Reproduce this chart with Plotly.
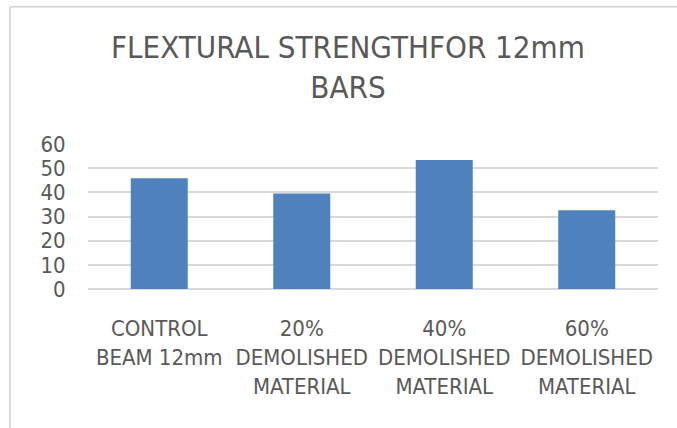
import plotly.graph_objects as go

categories = ["CONTROL<br>BEAM 12mm", "20%<br>DEMOLISHED<br>MATERIAL",
              "40%<br>DEMOLISHED<br>MATERIAL", "60%<br>DEMOLISHED<br>MATERIAL"]
values = [45.8, 39.5, 53.4, 32.6]
y_ticks = [0, 10, 20, 30, 40, 50, 60]
title_text = "FLEXTURAL STRENGTHFOR 12mm<br>BARS"

FONT = "DejaVu Sans Condensed, Liberation Sans Narrow, sans-serif"
GRAY = "#595959"

fig = go.Figure(go.Bar(x=categories, y=values, marker=dict(color="#4F81BD", line=dict(width=0))))

fig.update_layout(
    width=677, height=428,
    paper_bgcolor="white", plot_bgcolor="white",
    margin=dict(l=88, r=19, t=144, b=139),
    bargap=0.6,
    showlegend=False,
    font=dict(family=FONT, color=GRAY, size=22),
    title=dict(text=title_text, x=0.514, xanchor="center", y=1 - 58 / 428, yanchor="top",
               font=dict(family=FONT, size=31, color=GRAY)),
    xaxis=dict(showgrid=False, showline=False, zeroline=False, ticks="outside", ticklen=20,
               tickcolor="rgba(0,0,0,0)", tickfont=dict(size=22, color=GRAY, family=FONT)),
    yaxis=dict(range=[0, 60], tickvals=y_ticks, showgrid=True, gridcolor="#D9D9D9", gridwidth=1.5,
               zeroline=True, zerolinecolor="#D9D9D9", zerolinewidth=1.5, showline=False,
               ticks="outside", ticklen=17, tickcolor="rgba(0,0,0,0)",
               tickfont=dict(size=22, color=GRAY, family=FONT)),
    shapes=[
        dict(type="line", xref="paper", yref="paper", x0=-78 / 570, x1=589 / 570,
             y0=(289.3 - 6) / 145.6, y1=(289.3 - 6) / 145.6, line=dict(color="#D9D9D9", width=2)),
        dict(type="line", xref="paper", yref="paper", x0=-78 / 570, x1=-78 / 570,
             y0=(289.3 - 6) / 145.6, y1=(289.3 - 430) / 145.6, line=dict(color="#D9D9D9", width=2)),
    ],
)

fig.write_html("out.html", config={"displayModeBar": False},
               post_script="document.body.style.margin='0';")
